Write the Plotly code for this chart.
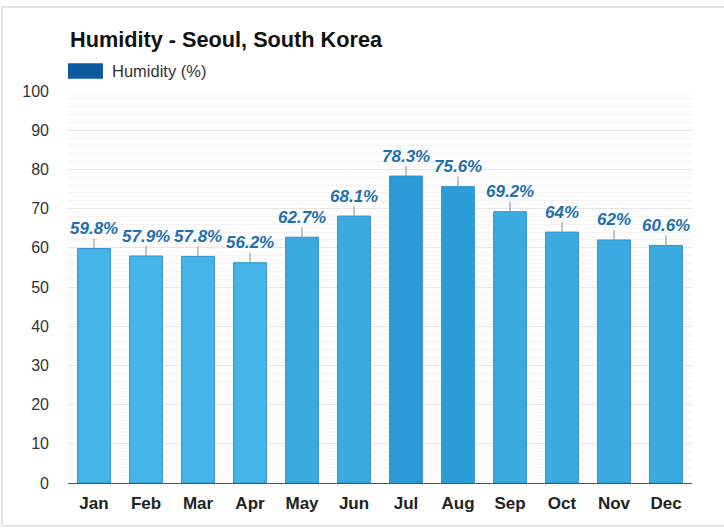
import plotly.graph_objects as go

months = ["Jan", "Feb", "Mar", "Apr", "May", "Jun", "Jul", "Aug", "Sep", "Oct", "Nov", "Dec"]
humidity = [59.8, 57.9, 57.8, 56.2, 62.7, 68.1, 78.3, 75.6, 69.2, 64, 62, 60.6]
labels = ["59.8%", "57.9%", "57.8%", "56.2%", "62.7%", "68.1%", "78.3%", "75.6%", "69.2%", "64%", "62%", "60.6%"]
bar_colors = ["#45b4e8", "#45b4e8", "#45b4e8", "#45b4e8", "#3aaae1", "#3aaae1",
              "#2a9bd6", "#2c9dd7", "#3aaae1", "#3aaae1", "#3aaae1", "#3aaae1"]
y_ticks = list(range(0, 101, 10))

FONT = "Liberation Sans, Arial, Helvetica"

fig = go.Figure()
fig.add_trace(go.Bar(
    x=months, y=humidity,
    marker=dict(color=bar_colors, line=dict(color="#2b93cc", width=1)),
    showlegend=False, hoverinfo="skip",
))

for m, v, t in zip(months, humidity, labels):
    fig.add_annotation(
        x=m, y=v, text="<b><i>%s</i></b>" % t, showarrow=True, arrowhead=0, arrowwidth=1,
        arrowcolor="#8a8a8a", ax=0, ay=-20,
        font=dict(family=FONT, size=17, color="#1f6fae"),
        borderpad=0,
    )

# Title and legend
fig.add_annotation(
    xref="paper", yref="paper", x=0, y=1, yshift=52, xanchor="left", yanchor="middle",
    text="<b>Humidity - Seoul, South Korea</b>", showarrow=False,
    font=dict(family=FONT, size=21.7, color="#111111"),
)
fig.add_shape(type="rect", xref="paper", yref="paper", x0=0, x1=0.056, y0=1.031, y1=1.071,
              fillcolor="#0d5a9e", line=dict(width=0))
fig.add_annotation(
    xref="paper", yref="paper", x=0.067, y=1.052, xanchor="left", yanchor="middle",
    text="Humidity (%)", showarrow=False,
    font=dict(family=FONT, size=16.5, color="#333333"),
)
# card border
fig.add_shape(type="rect", xref="paper", yref="paper", x0=-0.106, x1=1.08, y0=-0.109, y1=1.214,
              line=dict(color="#e4e4e4", width=2), fillcolor="rgba(0,0,0,0)", layer="below")

fig.update_layout(
    width=724, height=529,
    margin=dict(l=68, r=32, t=91, b=46),
    paper_bgcolor="#ffffff", plot_bgcolor="#fdfdfd",
    bargap=0.37,
    showlegend=False,
    font=dict(family=FONT, color="#333333"),
)
fig.update_yaxes(
    range=[0, 100], tickvals=y_ticks, showgrid=True, gridcolor="#e6e6e6", gridwidth=1,
    minor=dict(dtick=2, showgrid=True, gridcolor="#f3f3f3"),
    zeroline=False, showline=False, ticks="", ticklabelstandoff=18,
    tickfont=dict(size=16, color="#333333"), fixedrange=True,
)
fig.update_xaxes(
    showline=True, linecolor="#555555", linewidth=1, ticks="",
    tickfont=dict(size=17, color="#222222", family=FONT),
    ticklabelstandoff=5, fixedrange=True,
    tickvals=months, ticktext=["<b>%s</b>" % m for m in months],
)

fig.write_html("out.html", config={"displayModeBar": False},
               post_script="document.body.style.margin='0';")
